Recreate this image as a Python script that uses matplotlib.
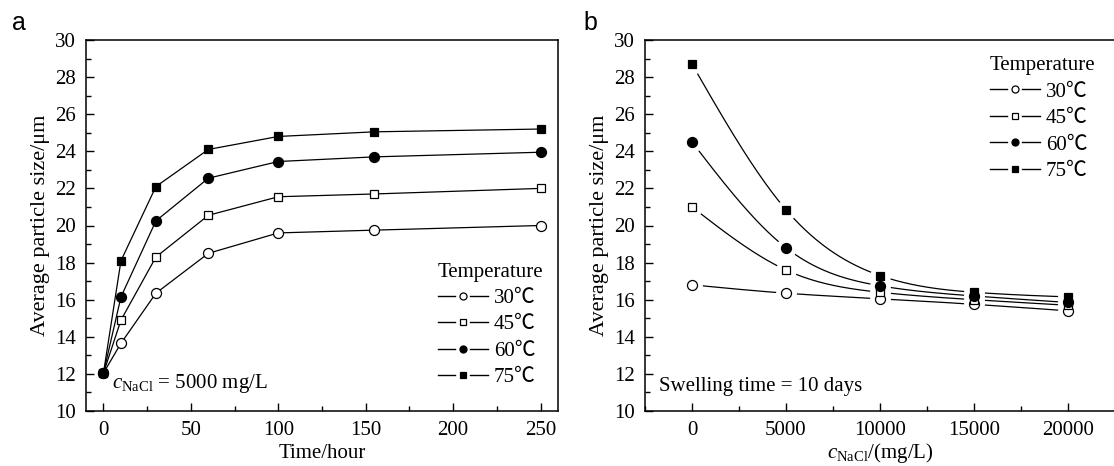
"""平均粒径 - 溶胀时间 / NaCl 浓度 两联图"""
import matplotlib
matplotlib.use('Agg')
import matplotlib.pyplot as plt
import numpy as np
from matplotlib.lines import Line2D
from matplotlib.legend_handler import HandlerBase
from matplotlib.ticker import MultipleLocator

plt.rcParams['font.family'] = ['Liberation Serif', 'Noto Sans CJK SC']
plt.rcParams['mathtext.fontset'] = 'custom'
plt.rcParams['mathtext.rm'] = 'Liberation Serif'
plt.rcParams['mathtext.it'] = 'Liberation Serif:italic'

# 数据
temps = ['30℃', '45℃', '60℃', '75℃']
markers = ['o', 's', 'o', 's']
fills = ['white', 'white', 'black', 'black']

time_hours = [0, 10, 30, 60, 100, 155, 250]
size_vs_time = [
    [12.05, 13.65, 16.35, 18.5, 19.6, 19.75, 20.0],
    [12.05, 14.9, 18.3, 20.55, 21.55, 21.7, 22.0],
    [12.05, 16.15, 20.25, 22.55, 23.45, 23.7, 23.95],
    [12.05, 18.1, 22.1, 24.1, 24.8, 25.05, 25.2],
]

nacl_conc = [0, 5000, 10000, 15000, 20000]
size_vs_nacl = [
    [16.8, 16.35, 16.05, 15.75, 15.4],
    [21.0, 17.6, 16.4, 16.0, 15.7],
    [24.5, 18.8, 16.75, 16.2, 15.85],
    [28.7, 20.85, 17.3, 16.4, 16.15],
]


def natural_spline(x, y, n=200):
    """自然三次样条，仅用于画平滑连线"""
    x = np.asarray(x, float)
    y = np.asarray(y, float)
    k = len(x)
    h = np.diff(x)
    A = np.zeros((k, k))
    r = np.zeros(k)
    A[0, 0] = A[-1, -1] = 1
    for i in range(1, k - 1):
        A[i, i - 1] = h[i - 1]
        A[i, i] = 2 * (h[i - 1] + h[i])
        A[i, i + 1] = h[i]
        r[i] = 6 * ((y[i + 1] - y[i]) / h[i] - (y[i] - y[i - 1]) / h[i - 1])
    m = np.linalg.solve(A, r)
    xs = np.linspace(x[0], x[-1], n)
    idx = np.clip(np.searchsorted(x, xs) - 1, 0, k - 2)
    x0, x1 = x[idx], x[idx + 1]
    hh = x1 - x0
    a = (x1 - xs) / hh
    b = (xs - x0) / hh
    ys = (a * y[idx] + b * y[idx + 1]
          + ((a ** 3 - a) * m[idx] + (b ** 3 - b) * m[idx + 1]) * hh ** 2 / 6)
    return xs, ys


class GapLineHandler(HandlerBase):
    """图例：—○— 样式，标记两侧留空"""

    def create_artists(self, legend, orig, xdescent, ydescent, width, height,
                       fontsize, trans):
        y = height / 2 - ydescent
        x0 = -xdescent
        mid = x0 + width / 2
        gap = 0.15 * width
        left = Line2D([x0, mid - gap], [y, y], color='black', lw=1.0)
        right = Line2D([mid + gap, x0 + width], [y, y], color='black', lw=1.0)
        mk = Line2D([mid], [y], ls='none', marker=orig.get_marker(),
                    ms=orig.get_markersize() * 0.7, mfc=orig.get_markerfacecolor(),
                    mec='black', mew=0.9)
        for art in (left, right, mk):
            art.set_transform(trans)
        return [left, right, mk]


fig = plt.figure(figsize=(11.14, 4.66), dpi=100)
ax1 = fig.add_axes([86 / 1114, 55 / 466, 472 / 1114, 371 / 466])
ax2 = fig.add_axes([645 / 1114, 55 / 466, 470 / 1114, 371 / 466])

# 图 a
for vals, lab, mk, fc in zip(size_vs_time, temps, markers, fills):
    ms = 7.2 if mk == 'o' else 6.4
    ax1.plot(time_hours, vals, color='black', lw=0.9, marker=mk, ms=ms,
             mfc=fc, mec='black', mew=0.9, label=lab, clip_on=False, zorder=3)

ax1.set_xlim(-10, 260)
ax1.xaxis.set_major_locator(MultipleLocator(50))
ax1.xaxis.set_minor_locator(MultipleLocator(25))
ax1.set_xlabel('Time/hour', fontsize=15, labelpad=3)
ax1.text(0.055, 0.075, r'$c_{\rm NaCl}$ = 5000 mg/L', transform=ax1.transAxes,
         fontsize=15, va='center', ha='left')

# 图 b: 平滑曲线，标记周围留白
for vals in size_vs_nacl:
    xs, ys = natural_spline(nacl_conc, vals)
    ax2.plot(xs, ys, color='black', lw=0.9, zorder=2)
for vals in size_vs_nacl:
    ax2.plot(nacl_conc, vals, ls='none', marker='o', ms=15, mfc='white',
             mec='none', zorder=3)
for vals, lab, mk, fc in zip(size_vs_nacl, temps, markers, fills):
    ms = 7.2 if mk == 'o' else 6.4
    ax2.plot(nacl_conc, vals, ls='none', marker=mk, ms=ms, mfc=fc,
             mec='black', mew=0.9, zorder=4)
    ax2.plot([], [], color='black', lw=0.9, marker=mk, ms=ms, mfc=fc,
             mec='black', mew=0.9, label=lab)

ax2.set_xlim(-2500, 22500)
ax2.xaxis.set_major_locator(MultipleLocator(5000))
ax2.xaxis.set_minor_locator(MultipleLocator(2500))
ax2.set_xlabel(r'$c_{\rm NaCl}$/(mg/L)', fontsize=15, labelpad=1)
ax2.text(0.03, 0.065, 'Swelling time = 10 days', transform=ax2.transAxes,
         fontsize=15, va='center', ha='left')

for ax in (ax1, ax2):
    ax.set_ylim(10, 30)
    ax.yaxis.set_major_locator(MultipleLocator(2))
    ax.yaxis.set_minor_locator(MultipleLocator(1))
    ax.set_ylabel('Average particle size/μm', fontsize=16, labelpad=4)
    ax.tick_params(which='both', direction='in', top=False, right=False,
                   labelsize=15, width=1, pad=7)
    ax.tick_params(which='major', length=6)
    ax.tick_params(which='minor', length=3.5)
    for sp in ax.spines.values():
        sp.set_linewidth(1.1)

leg_kw = dict(frameon=False, fontsize=15, title='Temperature', title_fontsize=15,
              handlelength=2.4, handletextpad=0.3, labelspacing=0.33,
              borderaxespad=0.2, handler_map={Line2D: GapLineHandler()})
leg1 = ax1.legend(loc='lower right', bbox_to_anchor=(0.995, 0.03), **leg_kw)
leg2 = ax2.legend(loc='upper right', bbox_to_anchor=(0.985, 0.99), **leg_kw)
for leg in (leg1, leg2):
    leg._legend_box.align = 'left'

fig.text(12 / 1114, 1 - 30 / 466, 'a', family='Liberation Sans', fontsize=18,
         ha='left', va='baseline')
fig.text(583 / 1114, 1 - 30 / 466, 'b', family='Liberation Sans', fontsize=18,
         ha='left', va='baseline')

fig.savefig('out.png', dpi=100)
plt.close(fig)
